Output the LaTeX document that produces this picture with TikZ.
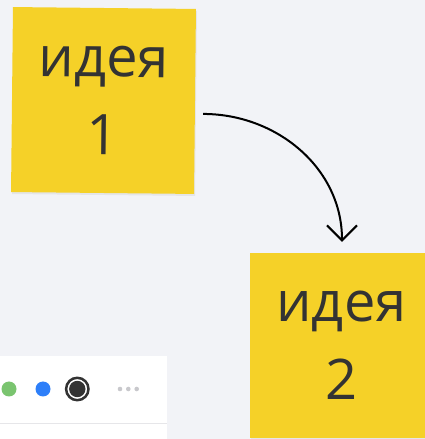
\documentclass[tikz,border=0pt]{standalone}
\usepackage{fontspec}
\newfontfamily\notefont{Open Sans}
\usetikzlibrary{calc}
\usetikzlibrary{arrows.meta}
\usetikzlibrary{shadows}
\definecolor{boardgray}{RGB}{242,243,247}
\definecolor{stickyyellow}{RGB}{245,209,40}
\definecolor{inkgray}{RGB}{51,51,51}
\definecolor{dotgreen}{RGB}{122,196,111}
\definecolor{dotblue}{RGB}{45,127,249}
\definecolor{dotgray}{RGB}{200,200,204}
\definecolor{rulegray}{RGB}{230,230,233}

\tikzset{
  sticky/.style={fill=stickyyellow, minimum width=183pt, minimum height=185pt,
    inner sep=0pt, align=center, text=inkgray,
    font=\notefont\fontsize{56}{78}\selectfont,
    drop shadow={shadow xshift=1pt, shadow yshift=-2pt, opacity=0.12}},
  link/.style={black, line width=2pt, -{Straight Barb[length=15pt,width=30pt]}},
}

\begin{document}
\begin{tikzpicture}[x=1pt,y=1pt]

\useasboundingbox (0,0) rectangle (425,439);
\clip (0,0) rectangle (425,439);
\fill[boardgray] (0,0) rectangle (425,439);

\node[sticky, rotate=-0.6] (I1) at (103.5,338.5) {идея\\1};
\node[sticky] (I2) at (341.5,93.5) {идея\\2};

\coordinate (S) at ($(I1.east)+(8,-12.5)$);
\coordinate (E) at ($(I2.north)+(0.5,11)$);
\draw[link] (S) to[out=0,in=90] (E);

\fill[white] (0,0) rectangle (167,83.3);
\draw[rulegray, line width=1pt] (0,15) -- (167,15);
\fill[dotgreen] (9,50) circle (7.5);
\fill[dotblue] (43,50) circle (7.5);
\draw[inkgray, line width=2.5pt] (77.3,50) circle (11.2);
\fill[inkgray] (77.3,50) circle (8.2);
\foreach \x in {120,128.3,136.7} \fill[dotgray] (\x,50) circle (2.3);

\end{tikzpicture}
\end{document}
